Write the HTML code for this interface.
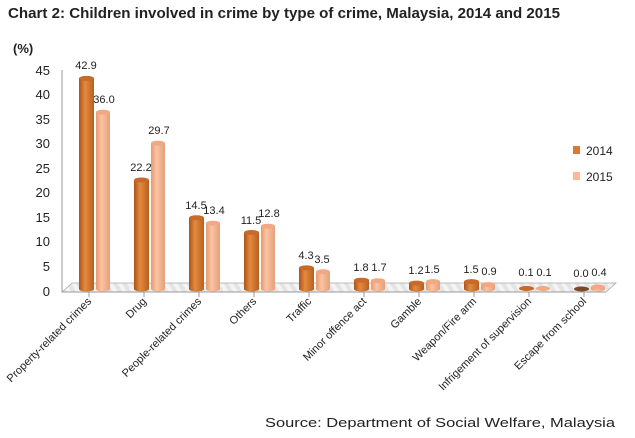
<!DOCTYPE html>
<html><head><style>
body{margin:0;background:#fff;}
svg text{font-family:"Liberation Sans",sans-serif;}
</style></head><body>
<svg width="635" height="433" viewBox="0 0 635 433" xmlns="http://www.w3.org/2000/svg">
<defs>
<linearGradient id="a" x1="0" x2="1"><stop offset="0" stop-color="#a9531a"/><stop offset="0.4" stop-color="#e58a3f"/><stop offset="1" stop-color="#b9601f"/></linearGradient>
<linearGradient id="b" x1="0" x2="1"><stop offset="0" stop-color="#e49a72"/><stop offset="0.4" stop-color="#fcc3a2"/><stop offset="1" stop-color="#e3a07c"/></linearGradient>
<pattern id="fl" width="8" height="8" patternUnits="userSpaceOnUse" patternTransform="rotate(-30)"><rect width="8" height="8" fill="#e4e4e4"/><rect width="4" height="8" fill="#f4f4f4"/></pattern>
</defs>
<text x="8" y="18" font-size="14.5" font-weight="bold" fill="#222" textLength="552" lengthAdjust="spacingAndGlyphs">Chart 2: Children involved in crime by type of crime, Malaysia, 2014 and 2015</text>
<text x="13" y="53" font-size="13" font-weight="bold" fill="#222">(%)</text>
<line x1="62" y1="70" x2="62" y2="292" stroke="#999"/>
<g font-size="13" fill="#222" text-anchor="end">
<text x="50" y="75">45</text><text x="50" y="99">40</text><text x="50" y="124">35</text><text x="50" y="148">30</text><text x="50" y="173">25</text><text x="50" y="197">20</text><text x="50" y="222">15</text><text x="50" y="246">10</text><text x="50" y="271">5</text><text x="50" y="296">0</text>
</g>
<polygon points="62,292 72,283 616,283 606,292" fill="url(#fl)" stroke="#aaa" stroke-width="0.8"/>
<line x1="62" y1="292" x2="606" y2="292" stroke="#999"/>
<g stroke="#999">
<line x1="89" y1="292" x2="89" y2="297"/><line x1="144" y1="292" x2="144" y2="297"/><line x1="199" y1="292" x2="199" y2="297"/><line x1="254" y1="292" x2="254" y2="297"/><line x1="309" y1="292" x2="309" y2="297"/><line x1="364" y1="292" x2="364" y2="297"/><line x1="419" y1="292" x2="419" y2="297"/><line x1="474" y1="292" x2="474" y2="297"/><line x1="529" y1="292" x2="529" y2="297"/><line x1="584" y1="292" x2="584" y2="297"/>
</g>
<g>
<rect x="79" y="78.4" width="15" height="210.6" fill="url(#a)"/><ellipse cx="86.5" cy="289" rx="7.5" ry="2.5" fill="url(#a)"/><ellipse cx="86.5" cy="78.4" rx="7.5" ry="2.5" fill="#c86a28"/>
<rect x="96" y="112.2" width="14" height="176.8" fill="url(#b)"/><ellipse cx="103" cy="289" rx="7" ry="2.5" fill="url(#b)"/><ellipse cx="103" cy="112.2" rx="7" ry="2.5" fill="#f2a882"/>
<rect x="134" y="180" width="15" height="109" fill="url(#a)"/><ellipse cx="141.5" cy="289" rx="7.5" ry="2.5" fill="url(#a)"/><ellipse cx="141.5" cy="180" rx="7.5" ry="2.5" fill="#c86a28"/>
<rect x="151" y="143.2" width="14" height="145.8" fill="url(#b)"/><ellipse cx="158" cy="289" rx="7" ry="2.5" fill="url(#b)"/><ellipse cx="158" cy="143.2" rx="7" ry="2.5" fill="#f2a882"/>
<rect x="189" y="217.8" width="15" height="71.2" fill="url(#a)"/><ellipse cx="196.5" cy="289" rx="7.5" ry="2.5" fill="url(#a)"/><ellipse cx="196.5" cy="217.8" rx="7.5" ry="2.5" fill="#c86a28"/>
<rect x="206" y="223.2" width="14" height="65.8" fill="url(#b)"/><ellipse cx="213" cy="289" rx="7" ry="2.5" fill="url(#b)"/><ellipse cx="213" cy="223.2" rx="7" ry="2.5" fill="#f2a882"/>
<rect x="244" y="232.5" width="15" height="56.5" fill="url(#a)"/><ellipse cx="251.5" cy="289" rx="7.5" ry="2.5" fill="url(#a)"/><ellipse cx="251.5" cy="232.5" rx="7.5" ry="2.5" fill="#c86a28"/>
<rect x="261" y="226.2" width="14" height="62.8" fill="url(#b)"/><ellipse cx="268" cy="289" rx="7" ry="2.5" fill="url(#b)"/><ellipse cx="268" cy="226.2" rx="7" ry="2.5" fill="#f2a882"/>
<rect x="299" y="267.9" width="15" height="21.1" fill="url(#a)"/><ellipse cx="306.5" cy="289" rx="7.5" ry="2.5" fill="url(#a)"/><ellipse cx="306.5" cy="267.9" rx="7.5" ry="2.5" fill="#c86a28"/>
<rect x="316" y="271.8" width="14" height="17.2" fill="url(#b)"/><ellipse cx="323" cy="289" rx="7" ry="2.5" fill="url(#b)"/><ellipse cx="323" cy="271.8" rx="7" ry="2.5" fill="#f2a882"/>
<rect x="354" y="280.2" width="15" height="8.8" fill="url(#a)"/><ellipse cx="361.5" cy="289" rx="7.5" ry="2.5" fill="url(#a)"/><ellipse cx="361.5" cy="280.2" rx="7.5" ry="2.5" fill="#c86a28"/>
<rect x="371" y="280.7" width="14" height="8.3" fill="url(#b)"/><ellipse cx="378" cy="289" rx="7" ry="2.5" fill="url(#b)"/><ellipse cx="378" cy="280.7" rx="7" ry="2.5" fill="#f2a882"/>
<rect x="409" y="283.1" width="15" height="5.9" fill="url(#a)"/><ellipse cx="416.5" cy="289" rx="7.5" ry="2.5" fill="url(#a)"/><ellipse cx="416.5" cy="283.1" rx="7.5" ry="2.5" fill="#c86a28"/>
<rect x="426" y="281.6" width="14" height="7.4" fill="url(#b)"/><ellipse cx="433" cy="289" rx="7" ry="2.5" fill="url(#b)"/><ellipse cx="433" cy="281.6" rx="7" ry="2.5" fill="#f2a882"/>
<rect x="464" y="281.6" width="15" height="7.4" fill="url(#a)"/><ellipse cx="471.5" cy="289" rx="7.5" ry="2.5" fill="url(#a)"/><ellipse cx="471.5" cy="281.6" rx="7.5" ry="2.5" fill="#c86a28"/>
<rect x="481" y="284.6" width="14" height="4.4" fill="url(#b)"/><ellipse cx="488" cy="289" rx="7" ry="2.5" fill="url(#b)"/><ellipse cx="488" cy="284.6" rx="7" ry="2.5" fill="#f2a882"/>
<ellipse cx="526.5" cy="288.5" rx="7.5" ry="2.5" fill="#c86a28"/>
<ellipse cx="543" cy="288.5" rx="7" ry="2.5" fill="#f2a882"/>
<ellipse cx="581.5" cy="289" rx="7.5" ry="2.5" fill="#7a4a2a"/>
<rect x="591" y="287" width="14" height="2" fill="url(#b)"/><ellipse cx="598" cy="289" rx="7" ry="2.5" fill="url(#b)"/><ellipse cx="598" cy="287" rx="7" ry="2.5" fill="#f2a882"/>
</g>
<g font-size="11" fill="#222" text-anchor="middle">
<text x="86" y="69">42.9</text><text x="104" y="103">36.0</text>
<text x="141" y="171">22.2</text><text x="159" y="134">29.7</text>
<text x="196" y="209">14.5</text><text x="214" y="214">13.4</text>
<text x="251" y="224">11.5</text><text x="269" y="217">12.8</text>
<text x="306" y="259">4.3</text><text x="322" y="263">3.5</text>
<text x="361" y="271">1.8</text><text x="379" y="271">1.7</text>
<text x="416" y="274">1.2</text><text x="432" y="273">1.5</text>
<text x="471" y="273">1.5</text><text x="489" y="275">0.9</text>
<text x="526" y="276">0.1</text><text x="544" y="276">0.1</text>
<text x="581" y="277">0.0</text><text x="599" y="276">0.4</text>
</g>
<g font-size="11" fill="#222" text-anchor="end">
<text transform="translate(92,302) rotate(-45)">Property-related crimes</text>
<text transform="translate(147,302) rotate(-45)">Drug</text>
<text transform="translate(202,302) rotate(-45)">People-related crimes</text>
<text transform="translate(257,302) rotate(-45)">Others</text>
<text transform="translate(312,302) rotate(-45)">Traffic</text>
<text transform="translate(367,302) rotate(-45)">Minor offence act</text>
<text transform="translate(422,302) rotate(-45)">Gamble</text>
<text transform="translate(477,302) rotate(-45)">Weapon/Fire arm</text>
<text transform="translate(532,302) rotate(-45)">Infrigement of supervision</text>
<text transform="translate(587,302) rotate(-45)">Escape from school</text>
</g>
<rect x="573" y="146" width="7" height="8" fill="#d97a30"/>
<text x="586" y="155" font-size="12" fill="#222">2014</text>
<rect x="573" y="172" width="7" height="8" fill="#fbb996"/>
<text x="586" y="181" font-size="12" fill="#222">2015</text>
<text x="265" y="427" font-size="13" fill="#222" textLength="350" lengthAdjust="spacingAndGlyphs">Source: Department of Social Welfare, Malaysia</text>
</svg>
</body></html>
